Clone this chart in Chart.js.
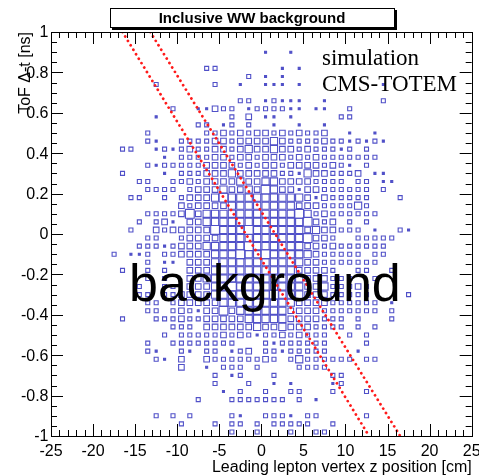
<!DOCTYPE html>
<html>
<head>
<meta charset="utf-8">
<script src="https://cdn.jsdelivr.net/npm/chart.js@4.4.0/dist/chart.umd.min.js"></script>
<style>
html, body { margin: 0; padding: 0; background: #fff; }
canvas { display: block; }
</style>
</head>
<body>
<canvas id="chart" width="479" height="476"></canvas>
<script>
// Axis ranges and tick labels
const xRange = [-25, 25];
const yRange = [-1, 1];
const xTicks = [-25, -20, -15, -10, -5, 0, 5, 10, 15, 20, 25];
const yTicks = [-1, -0.8, -0.6, -0.4, -0.2, 0, 0.2, 0.4, 0.6, 0.8, 1];

const rows = [
  '0000000000 0000000000 0000000000 0000000000 0000000000',
  '0000000000 0000000000 0000000000 0000000000 0000000000',
  '0000000000 0000000000 0000010010 0000000000 0000000000',
  '0000000000 0000000000 0000000000 0000000000 0000000000',
  '0000000000 0000000022 0000000101 0000000000 0000000000',
  '0000000000 0000000000 0002010100 0000000000 0000000000',
  '0000000000 0020000002 0010011101 0000000001 0000000000',
  '0000000000 0000000000 0000000000 0000000000 0000000000',
  '0000000000 0000000000 0022012111 0010000002 0000000000',
  '0000000000 0000200113 2201222211 0110020000 0000000000',
  '0000000000 0010000000 0203011010 0000220000 0000000000',
  '0000000000 0000000220 1202001001 0010000000 0000000000',
  '0000000000 0200000022 3232332323 2230010010 0000000000',
  '0000000000 0210022223 3233334322 2232212121 0000000000',
  '0000000022 0012123223 3234334332 3222120200 0000000000',
  '0000000000 0001022223 3233233323 2322222220 0000000000',
  '0000000000 0212222233 3323233233 3323210200 0000000000',
  '0000000020 0001022233 3433333221 4332223011 0000000000',
  '0000000000 2200223233 3343344333 3222202201 1000000000',
  '0000000000 0222202333 4334354331 3322222202 0000000000',
  '0000000002 2002023334 5444444444 3132222200 0200000000',
  '0000000000 0000032333 3444444443 3322224200 0000000000',
  '0000000000 0222235344 4444444445 4232222220 0000000000',
  '0000000000 2023103344 4444444444 5323020200 0000000000',
  '0000000002 0032333335 4445444444 3433222010 0210000000',
  '0000000000 0220023333 4444444444 5332002222 2000000000',
  '0000000000 2221233344 4445444444 3323222222 0000000000',
  '0000000201 1202233334 4454454444 4322222022 0000000000',
  '0000000000 0201103334 4444444444 3322222220 0000000000',
  '0000000020 0202003334 4444444443 3332002200 2000000000',
  '0000000000 0202003344 4444444444 3332220020 0000000000',
  '0000000000 2002203334 4544444444 3342223200 0000000000',
  '0000000000 2202233334 4444445444 3332222200 0020000000',
  '0000000000 0220233333 4444444443 3332222220 1000000000',
  '0000000000 0220232133 5344444433 3322222220 2000000000',
  '0000000020 0022232233 3334444433 3322202000 2000000000',
  '0000000000 0000222033 3333433433 3222202020 0000000000',
  '0000000000 0002022222 3232122323 2220020200 0000000000',
  '0000000000 0200222222 2200021222 2220000200 0000000000',
  '0000000000 0210021022 0123022122 2220001000 0000000000',
  '0000000000 0021030032 2222232024 2222220220 0000000000',
  '0000000000 0000030010 2220200002 2220000000 0000000000',
  '0000000000 0000000002 0120002000 0002200000 0000000000',
  '0000000000 0000000002 0002001010 0001200000 0000000000',
  '0000000000 0000000000 1020020022 0002000200 0000000000',
  '0000000000 0000000200 0222222202 0100000000 0000000000',
  '0000000000 0000000000 0000000000 0000000000 0000000000',
  '0000000000 0020202000 0210022210 2200000200 0000000000',
  '0000000000 0000020002 0220202222 2002000000 0000000000',
  '0000000000 0000000000 0200200020 0220000000 0000000000'
];

// Red dotted cut lines [x, y]
const cutLow = [[-16.5, 1], [12.8, -1]];
const cutHigh = [[-13.2, 1], [16.5, -1]];

const boxColor = '#5050c8';
const boxSide = [0, 2, 4, 5.6, 7.2, 8.8];
const sansFont = '"Liberation Sans", Arial, Helvetica, sans-serif';
const serifFont = '"Liberation Serif", "Times New Roman", serif';

// Build bin centres from the grid
function buildBoxes() {
    const grid = rows.map(r => r.replace(/ /g, ''));
    const nx = grid[0].length;
    const ny = grid.length;
    const bw = (xRange[1] - xRange[0]) / nx;
    const bh = (yRange[1] - yRange[0]) / ny;
    const pts = [];
    grid.forEach((row, j) => {
        for (let i = 0; i < nx; i++) {
            const s = +row[i];
            if (s > 0) {
                pts.push({ x: xRange[0] + (i + 0.5) * bw, y: yRange[1] - (j + 0.5) * bh, s: s });
            }
        }
    });
    return pts;
}

// Frame, inward ticks, labels and texts in ROOT style
const rootStyle = {
    id: 'rootStyle',
    afterDatasetsDraw(chart) {
        const ctx = chart.ctx;
        const a = chart.chartArea;
        const xs = chart.scales.x;
        const ys = chart.scales.y;

        ctx.save();
        // big label
        ctx.fillStyle = '#000';
        ctx.font = '52px ' + sansFont;
        ctx.textAlign = 'left';
        ctx.textBaseline = 'alphabetic';
        ctx.fillText('background', 129, 301);

        ctx.font = '23px ' + serifFont;
        ctx.fillText('simulation', 322, 64.5);
        ctx.fillText('CMS-TOTEM', 322, 90.5);

        // frame
        ctx.strokeStyle = '#000';
        ctx.lineWidth = 1;
        ctx.strokeRect(Math.round(a.left) + 0.5, Math.round(a.top) + 0.5,
            Math.round(a.right - a.left), Math.round(a.bottom - a.top));

        // x ticks (bottom and top)
        ctx.beginPath();
        for (let k = 0; k < xTicks.length; k++) {
            const v = xTicks[k];
            const px = Math.round(xs.getPixelForValue(v)) + 0.5;
            ctx.moveTo(px, a.bottom); ctx.lineTo(px, a.bottom - 12);
            ctx.moveTo(px, a.top); ctx.lineTo(px, a.top + 12);
            if (k < xTicks.length - 1) {
                const step = (xTicks[k + 1] - v) / 5;
                for (let m = 1; m < 5; m++) {
                    const mx = Math.round(xs.getPixelForValue(v + m * step)) + 0.5;
                    ctx.moveTo(mx, a.bottom); ctx.lineTo(mx, a.bottom - 6);
                    ctx.moveTo(mx, a.top); ctx.lineTo(mx, a.top + 6);
                }
            }
        }
        // y ticks (left and right)
        for (let k = 0; k < yTicks.length; k++) {
            const v = yTicks[k];
            const py = Math.round(ys.getPixelForValue(v)) + 0.5;
            ctx.moveTo(a.left, py); ctx.lineTo(a.left + 12, py);
            ctx.moveTo(a.right, py); ctx.lineTo(a.right - 12, py);
            if (k < yTicks.length - 1) {
                const step = (yTicks[k + 1] - v) / 4;
                for (let m = 1; m < 4; m++) {
                    const my = Math.round(ys.getPixelForValue(v + m * step)) + 0.5;
                    ctx.moveTo(a.left, my); ctx.lineTo(a.left + 6, my);
                    ctx.moveTo(a.right, my); ctx.lineTo(a.right - 6, my);
                }
            }
        }
        ctx.stroke();

        // tick labels
        ctx.font = '16px ' + sansFont;
        ctx.textAlign = 'center';
        ctx.textBaseline = 'alphabetic';
        xTicks.forEach(v => ctx.fillText(String(v), xs.getPixelForValue(v), 456));
        ctx.textAlign = 'right';
        ctx.textBaseline = 'middle';
        yTicks.forEach(v => ctx.fillText(String(v), 48.5, ys.getPixelForValue(v) + 1));

        // axis titles
        ctx.textAlign = 'right';
        ctx.textBaseline = 'alphabetic';
        ctx.fillText('Leading lepton vertex z position [cm]', a.right, 472);
        ctx.save();
        ctx.translate(30, a.top);
        ctx.rotate(-Math.PI / 2);
        ctx.fillText('ToF \u0394-t [ns]', 0, 0);
        ctx.restore();

        // title box with shadow
        ctx.fillStyle = '#000';
        ctx.fillRect(112, 10, 285, 20);
        ctx.fillStyle = '#fff';
        ctx.fillRect(110, 8, 284, 19);
        ctx.strokeRect(110.5, 8.5, 284, 19);
        ctx.fillStyle = '#000';
        ctx.font = 'bold 15px ' + sansFont;
        ctx.textAlign = 'center';
        ctx.fillText('Inclusive WW background', 252, 23);
        ctx.restore();
    }
};

const cutStyle = {
    type: 'line',
    showLine: true,
    borderColor: '#ff1a1a',
    borderWidth: 2.8,
    borderDash: [0.01, 5.2],
    borderCapStyle: 'round',
    pointRadius: 0,
    fill: false
};

new Chart(document.getElementById('chart'), {
    type: 'scatter',
    data: {
        datasets: [
            Object.assign({ data: cutLow.map(p => ({ x: p[0], y: p[1] })) }, cutStyle),
            Object.assign({ data: cutHigh.map(p => ({ x: p[0], y: p[1] })) }, cutStyle),
            {
                data: buildBoxes(),
                pointStyle: 'rect',
                pointRadius: c => (c.raw ? boxSide[c.raw.s] / (2 * Math.SQRT1_2) : 0),
                pointHoverRadius: c => (c.raw ? boxSide[c.raw.s] / (2 * Math.SQRT1_2) : 0),
                pointBorderWidth: 1.1,
                borderColor: boxColor,
                backgroundColor: c => (c.raw && c.raw.s === 1 ? boxColor : 'rgba(0,0,0,0)')
            }
        ]
    },
    options: {
        responsive: false,
        animation: false,
        devicePixelRatio: 1,
        layout: { padding: { left: 51, right: 6, top: 32, bottom: 40 } },
        plugins: {
            legend: { display: false },
            tooltip: { enabled: false }
        },
        scales: {
            x: { type: 'linear', min: xRange[0], max: xRange[1], display: false },
            y: { type: 'linear', min: yRange[0], max: yRange[1], display: false }
        }
    },
    plugins: [rootStyle]
});
</script>
</body>
</html>
